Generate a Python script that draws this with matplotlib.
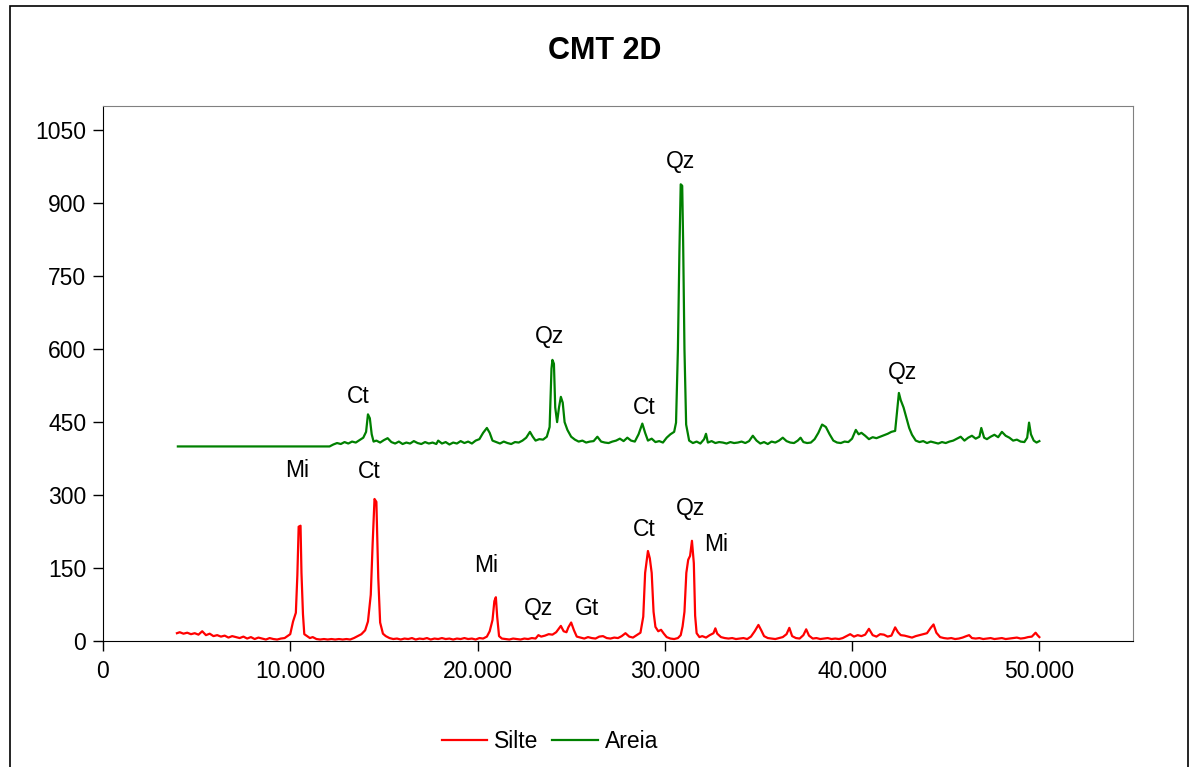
#!/usr/bin/env python

import matplotlib
matplotlib.use('Agg')
import matplotlib.pyplot as plt
from matplotlib.patches import Rectangle
from matplotlib.ticker import FuncFormatter, MultipleLocator

# Silte (red) diffractogram
silte_x = [
    3950, 4100, 4300, 4500, 4700, 4900, 5100, 5300, 5500, 5700, 5900, 6100,
    6300, 6500, 6700, 6900, 7100, 7300, 7500, 7700, 7900, 8100, 8300, 8500,
    8700, 8900, 9100, 9300, 9500, 9700, 9850, 10000, 10150, 10300, 10380,
    10450, 10550, 10600, 10680, 10750, 10900, 11050, 11200, 11400, 11600,
    11800, 12000, 12200, 12400, 12600, 12800, 13000, 13200, 13400, 13600,
    13800, 14000, 14150, 14300, 14400, 14500, 14600, 14700, 14800, 14950,
    15100, 15300, 15500, 15700, 15900, 16100, 16300, 16500, 16700, 16900,
    17100, 17300, 17500, 17700, 17900, 18100, 18300, 18500, 18700, 18900,
    19100, 19300, 19500, 19700, 19900, 20100, 20300, 20500, 20650, 20800,
    20900, 20980, 21050, 21150, 21300, 21500, 21700, 21900, 22100, 22300,
    22500, 22700, 22900, 23100, 23250, 23400, 23600, 23800, 24000, 24200,
    24450, 24600, 24750, 24850, 25000, 25150, 25300, 25500, 25700, 25900,
    26100, 26300, 26500, 26700, 26900, 27100, 27300, 27500, 27700, 27900,
    28100, 28300, 28500, 28700, 28850, 28950, 29100, 29200, 29300, 29400,
    29500, 29650, 29800, 29950, 30100, 30300, 30500, 30700, 30850, 30950,
    31050, 31150, 31250, 31350, 31450, 31550, 31620, 31700, 31850, 32000,
    32200, 32400, 32600, 32700, 32800, 33000, 33200, 33400, 33600, 33800,
    34000, 34200, 34400, 34600, 34800, 35000, 35150, 35300, 35500, 35700,
    35900, 36100, 36300, 36500, 36650, 36800, 37000, 37200, 37400, 37550,
    37700, 37900, 38100, 38300, 38500, 38700, 38900, 39100, 39300, 39500,
    39700, 39900, 40100, 40300, 40500, 40700, 40900, 41100, 41300, 41500,
    41700, 41900, 42100, 42300, 42450, 42600, 42800, 43000, 43200, 43400,
    43600, 43800, 44000, 44200, 44350, 44500, 44700, 44900, 45100, 45300,
    45500, 45700, 45900, 46100, 46250, 46400, 46600, 46800, 47000, 47200,
    47400, 47600, 47800, 48000, 48200, 48400, 48600, 48800, 49000, 49200,
    49400, 49600, 49800, 49900, 50000,
]
silte_y = [
    16, 18, 15, 17, 14, 16, 13, 20, 12, 15, 10, 12,
    9, 11, 7, 10, 8, 6, 9, 5, 8, 4, 7, 5,
    3, 6, 4, 3, 5, 6, 10, 14, 40, 58, 135,
    235, 237, 140, 55, 14, 10, 6, 8, 4, 3,
    4, 3, 4, 3, 4, 3, 4, 3, 6, 10,
    14, 22, 40, 95, 200, 292, 286, 130, 38, 15,
    10, 6, 4, 5, 3, 5, 4, 6, 3, 5,
    4, 6, 3, 5, 4, 6, 4, 5, 3, 5,
    4, 6, 4, 5, 3, 6, 5, 9, 20, 43,
    82, 90, 50, 10, 5, 4, 3, 5, 4, 3,
    5, 4, 6, 5, 12, 9, 11, 14, 13, 18,
    31, 20, 18, 28, 38, 22, 9, 7, 5, 8,
    6, 5, 9, 10, 6, 5, 7, 6, 10, 16,
    9, 7, 12, 17, 50, 140, 185, 170, 140, 60,
    29, 20, 23, 15, 8, 5, 4, 6, 12, 30,
    60, 140, 167, 175, 206, 160, 52, 16, 8, 10,
    7, 12, 16, 26, 15, 8, 6, 5, 6, 4,
    5, 6, 4, 9, 20, 33, 22, 10, 6, 5,
    4, 6, 8, 14, 27, 10, 6, 5, 12, 24,
    11, 5, 6, 4, 5, 6, 4, 5, 4, 6,
    10, 14, 9, 12, 10, 13, 25, 12, 9, 14,
    13, 9, 11, 28, 18, 12, 11, 9, 7, 10,
    12, 14, 16, 27, 34, 17, 8, 6, 5, 6,
    4, 5, 7, 10, 12, 6, 5, 6, 4, 5,
    6, 4, 5, 6, 4, 5, 6, 7, 5, 6,
    8, 9, 17, 12, 8,
]

# Areia (green) diffractogram
areia_x = [
    4000, 12100, 12300, 12500, 12700, 12900, 13100, 13300, 13500, 13700,
    13900, 14050, 14150, 14250, 14350, 14450, 14600, 14800, 15000, 15200,
    15400, 15600, 15800, 16000, 16200, 16400, 16600, 16800, 17000, 17200,
    17400, 17600, 17800, 17900, 18100, 18300, 18500, 18700, 18900, 19100,
    19300, 19500, 19700, 19900, 20100, 20300, 20500, 20650, 20800, 21000,
    21200, 21400, 21600, 21800, 22000, 22200, 22400, 22600, 22800, 22950,
    23100, 23300, 23500, 23700, 23850, 23950, 24000, 24080, 24150, 24250,
    24350, 24450, 24550, 24650, 24800, 25000, 25200, 25400, 25600, 25800,
    26000, 26200, 26400, 26600, 26800, 27000, 27200, 27400, 27600, 27800,
    28000, 28200, 28400, 28600, 28800, 28950, 29100, 29300, 29500, 29700,
    29900, 30100, 30300, 30500, 30600, 30700, 30780, 30850, 30930, 30980,
    31050, 31140, 31300, 31500, 31700, 31900, 32100, 32200, 32300, 32500,
    32700, 32900, 33100, 33300, 33500, 33700, 33900, 34100, 34300, 34500,
    34700, 34900, 35100, 35300, 35500, 35700, 35900, 36100, 36300, 36500,
    36700, 36900, 37100, 37250, 37400, 37600, 37800, 38000, 38200, 38400,
    38600, 38800, 39000, 39200, 39400, 39600, 39800, 40000, 40200, 40350,
    40500, 40700, 40900, 41100, 41300, 41500, 41700, 41900, 42100, 42300,
    42400, 42500, 42600, 42750, 42930, 43050, 43200, 43400, 43600, 43800,
    44000, 44200, 44400, 44600, 44800, 45000, 45200, 45400, 45600, 45800,
    46000, 46200, 46400, 46600, 46800, 46900, 47050, 47200, 47400, 47600,
    47800, 48000, 48200, 48400, 48600, 48800, 49000, 49200, 49350, 49450,
    49550, 49700, 49850, 50000,
]
areia_y = [
    400, 400, 404, 407, 405, 409, 406, 410, 408, 413,
    418, 430, 466, 458, 425, 410, 412, 408, 413, 417,
    409, 406, 410, 405, 408, 406, 411, 407, 405, 409,
    406, 408, 405, 412, 406, 409, 404, 408, 406, 411,
    407, 410, 406, 412, 415, 428, 438, 428, 412, 409,
    406, 410, 407, 405, 409, 408, 412, 418, 430, 420,
    412, 415, 414, 420, 440, 560, 578, 570, 480, 450,
    480, 502, 490, 450, 434, 420, 414, 410, 412, 408,
    410, 411, 420, 410, 408, 407, 410, 412, 416, 411,
    418, 412, 410, 425, 447, 428, 412, 416, 409, 411,
    408, 418, 425, 430, 449, 600, 800, 939, 936, 820,
    600, 445, 412, 407, 410, 406, 415, 426, 408, 411,
    407, 409, 408, 406, 409, 407, 408, 410, 407, 411,
    422, 412, 406, 409, 405, 410, 408, 412, 418, 411,
    408, 407, 412, 418, 409, 407, 408, 415, 428, 445,
    440, 425, 412, 408, 407, 410, 409, 416, 434, 425,
    428, 422, 415, 419, 417, 420, 423, 426, 430, 432,
    470, 510, 495, 480, 455, 438, 424, 412, 409, 411,
    407, 410, 408, 406, 409, 407, 410, 412, 416, 420,
    412, 418, 422, 416, 420, 438, 418, 415, 420, 424,
    419, 430, 422, 418, 412, 414, 410, 409, 418, 449,
    425, 412, 408, 411,
]

# peak labels: (text, 2-theta, intensity)
silte_labels = [
    ('Mi', 10360, 350), ('Ct', 14200, 348), ('Mi', 20460, 156),
    ('Qz', 23240, 66), ('Gt', 25850, 66), ('Ct', 28900, 229),
    ('Qz', 31360, 272), ('Mi', 32750, 198),
]
areia_labels = [
    ('Ct', 13620, 502), ('Qz', 23830, 626), ('Ct', 28900, 480),
    ('Qz', 30820, 986), ('Qz', 42680, 552),
]


def thousands(v, pos):
    if v == 0:
        return '0'
    return '{:,.0f}'.format(v).replace(',', '.')


def plot_cmt():
    plt.rcParams['font.family'] = ['Liberation Sans', 'DejaVu Sans']
    fig = plt.figure(figsize=(11.93, 7.67), dpi=100)
    ax = fig.add_axes([0.0863, 0.1643, 0.8634, 0.6975])

    ax.plot(silte_x, silte_y, color='#ff0000', lw=1.6, label='Silte')
    ax.plot(areia_x, areia_y, color='#008000', lw=1.6, label='Areia')

    for txt, x, y in silte_labels + areia_labels:
        ax.text(x, y, txt, ha='center', va='center', fontsize=16.5)

    ax.set_xlim(0, 55000)
    ax.set_ylim(0, 1100)
    ax.xaxis.set_major_locator(MultipleLocator(10000))
    ax.yaxis.set_major_locator(MultipleLocator(150))
    ax.xaxis.set_major_formatter(FuncFormatter(thousands))
    ax.tick_params(labelsize=16.5, length=7, width=1, color='black')
    ax.tick_params(axis='y', pad=5)
    ax.tick_params(axis='x', pad=7)

    for side in ['top', 'right']:
        ax.spines[side].set_color('#808080')
    for side in ['left', 'bottom']:
        ax.spines[side].set_color('black')

    fig.text(0.507, 0.934, 'CMT 2D', ha='center', va='center',
             fontsize=22, fontweight='bold')

    fig.legend(loc='center', bbox_to_anchor=(0.461, 0.033), ncol=2,
               frameon=False, fontsize=16.5, handlelength=2.0,
               columnspacing=0.6, handletextpad=0.3)

    # outer chart border
    fig.patches.append(Rectangle((10 / 1193, -0.02), 1178 / 1193, 1.012,
                                 transform=fig.transFigure, fill=False,
                                 edgecolor='black', lw=1.2))

    fig.savefig('out.png', dpi=100)


if __name__ == '__main__':
    plot_cmt()
